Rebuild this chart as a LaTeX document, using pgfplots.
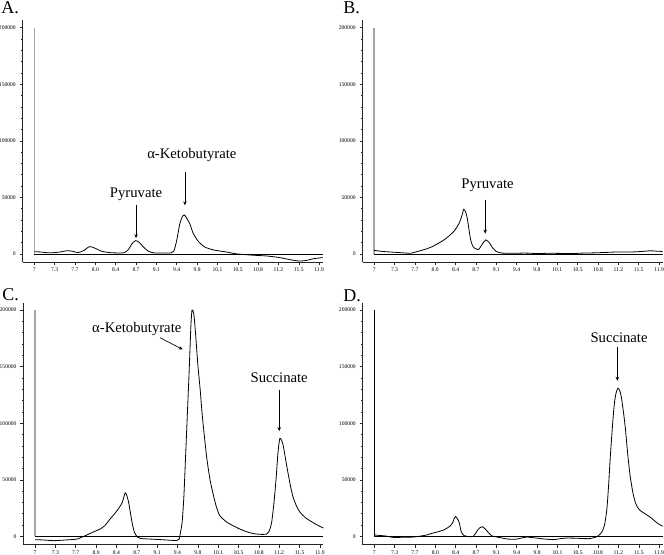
\documentclass[border=0pt]{standalone}
\usepackage{fontspec}
\setmainfont{Liberation Serif}
\usepackage{pgfplots}
\pgfplotsset{compat=1.18}
\usetikzlibrary{arrows.meta}

\pgfplotsset{
  chrom/.style={
    scale only axis, width=225pt, height=181.6pt,
    xmin=6.8, xmax=11.96, ymin=-7500, ymax=206500,
    axis x line*=bottom, axis y line*=left,
    axis line style={-, black!85, line width=0.6pt},
    xtick={7,7.35,7.7,8.05,8.4,8.75,9.1,9.45,9.8,10.15,10.5,10.85,11.2,11.55,11.9},
    xticklabels={7,7.3,7.7,8.0,8.4,8.7,9.1,9.4,9.8,10.1,10.5,10.8,11.2,11.5,11.9},
    ytick={0,50000,100000,150000,200000},
    yticklabels={0,50000,100000,150000,200000},
    minor y tick num=4,
    scaled y ticks=false,
    tick align=outside,
    major tick length=2.25pt, minor tick length=1.2pt,
    tick style={black!85, line width=0.4pt},
    tick label style={font=\fontsize{4.2}{5}\selectfont},
    xticklabel style={yshift=1.6pt},
    yticklabel style={xshift=0.6pt},
    /pgf/number format/assume math mode=true,
    clip=false,
  },
  curve/.style={black, line width=0.6pt, smooth, tension=0.4},
}
\tikzset{
  ann/.style={font=\fontsize{11}{13}\selectfont, inner sep=0pt},
  arr/.style={-{Stealth[length=3pt,width=2.6pt]}, black, line width=0.5pt},
}

\pgfplotstableread{
x y
7.00 2000
7.10 1800
7.20 1200
7.30 1000
7.45 1800
7.55 2800
7.65 2500
7.75 1200
7.85 3000
7.95 6500
8.05 5000
8.15 2500
8.30 1200
8.45 900
8.55 1200
8.62 4000
8.68 9000
8.74 11800
8.80 10500
8.88 6000
8.96 2500
9.05 1000
9.20 800
9.35 900
9.40 2500
9.45 12000
9.50 26000
9.55 33500
9.58 34500
9.62 31800
9.68 26000
9.73 18600
9.82 11200
9.93 6200
10.05 4000
10.14 3000
10.30 1800
10.45 300
10.60 -500
10.80 -1200
11.00 -1800
11.20 -3000
11.35 -4500
11.50 -6000
11.60 -6200
11.70 -5500
11.80 -4200
11.96 -3200
}\dataA

\pgfplotstableread{
x y
7.00 3200
7.15 2200
7.35 1500
7.50 1000
7.62 600
7.72 1800
7.80 3000
7.90 4500
8.00 6500
8.10 9300
8.20 12400
8.30 16500
8.38 20500
8.46 27000
8.51 34000
8.54 39500
8.57 37500
8.60 32000
8.63 22000
8.66 12400
8.70 6500
8.75 4500
8.80 4100
8.85 8000
8.92 12400
8.98 10000
9.03 5900
9.10 2200
9.20 800
9.40 600
9.60 800
9.80 400
10.00 600
10.20 500
10.40 300
10.60 800
10.80 1000
11.00 1400
11.20 1800
11.40 1700
11.60 2200
11.75 2800
11.85 2500
11.96 2200
}\dataB

\pgfplotstableread{
x y
7.00 -2900
7.15 -3200
7.32 -3800
7.50 -3300
7.72 -2400
7.80 -800
7.89 1200
8.00 3800
8.12 6500
8.20 9500
8.29 15300
8.36 19500
8.43 24100
8.50 30000
8.55 38500
8.58 36000
8.61 30000
8.64 21000
8.67 12000
8.71 3500
8.76 -500
8.81 -1800
8.90 -2200
9.03 -2500
9.20 -3000
9.35 -3500
9.44 -3600
9.48 -2400
9.50 3000
9.53 12400
9.56 35000
9.59 71000
9.62 108000
9.65 144600
9.68 185000
9.70 200000
9.73 197000
9.76 180000
9.80 152000
9.84 130000
9.88 105000
9.95 71000
10.01 50000
10.07 35900
10.12 26000
10.18 18200
10.30 12500
10.41 9400
10.52 6500
10.64 4100
10.75 2500
10.87 1800
10.98 2000
11.03 5000
11.07 12400
11.11 30000
11.15 53500
11.18 75000
11.21 86400
11.24 85000
11.27 80000
11.31 68000
11.36 53500
11.40 43000
11.44 34400
11.50 26500
11.56 21200
11.65 16500
11.73 13800
11.82 11000
11.90 8800
11.96 7400
}\dataC

\pgfplotstableread{
x y
7.00 1200
7.10 800
7.20 300
7.33 -900
7.50 -800
7.67 -600
7.80 300
7.90 1200
8.00 2800
8.10 4100
8.20 5800
8.27 7900
8.32 10000
8.35 12400
8.38 16500
8.40 17600
8.43 15500
8.46 12400
8.48 7500
8.50 3500
8.54 800
8.59 0
8.66 -300
8.70 0
8.74 2500
8.77 5000
8.82 7800
8.86 8500
8.90 7000
8.96 3500
9.02 500
9.10 -500
9.20 -1500
9.30 -2400
9.45 -2400
9.55 -1200
9.62 -600
9.74 -1200
9.90 -2200
10.08 -2900
10.20 -2000
10.31 -1500
10.45 -1600
10.54 -1800
10.70 -2000
10.80 -800
10.84 0
10.91 3500
10.96 10000
11.00 24100
11.03 45000
11.06 71000
11.10 100000
11.13 118000
11.16 127000
11.19 131000
11.22 129000
11.25 123000
11.29 108000
11.32 94700
11.36 72000
11.40 53500
11.45 38000
11.49 30000
11.53 25500
11.58 22600
11.67 19500
11.75 16800
11.85 12500
11.92 10000
11.96 9000
}\dataD

\begin{document}
\begin{tikzpicture}
\useasboundingbox (0,0) rectangle (498pt,416.25pt);

% Panel A
\begin{axis}[chrom, at={(17pt,219.4pt)}, anchor=south west]
\addplot[gray!70, line width=1pt] coordinates {(7,0) (7,200000)};
\addplot[black, line width=0.6pt] coordinates {(7,0) (11.96,0)};
\addplot[curve] table[x=x,y=y] {\dataA};
\node[ann] at (axis cs:8.75,52800) {Pyruvate};
\draw[arr] (axis cs:8.75,43300) -- (axis cs:8.75,14000);
\node[ann] at (axis cs:9.71,87500) {α-Ketobutyrate};
\draw[arr] (axis cs:9.59,72500) -- (axis cs:9.59,43000);
\end{axis}

% Panel B
\begin{axis}[chrom, at={(271.9pt,219.4pt)}, anchor=south west]
\addplot[gray!70, line width=1pt] coordinates {(7,0) (7,200000)};
\addplot[black, line width=0.6pt] coordinates {(7,0) (11.96,0)};
\addplot[curve] table[x=x,y=y] {\dataB};
\node[ann] at (axis cs:8.95,61000) {Pyruvate};
\draw[arr] (axis cs:8.91,47700) -- (axis cs:8.91,18000);
\end{axis}

% Panel C
\begin{axis}[chrom, at={(17.55pt,7.6pt)}, anchor=south west]
\addplot[gray!70, line width=1pt] coordinates {(7,0) (7,200000)};
\addplot[black, line width=0.6pt] coordinates {(7,0) (11.96,0)};
\addplot[curve] table[x=x,y=y] {\dataC};
\node[ann] at (axis cs:8.75,182900) {α-Ketobutyrate};
\draw[arr] (axis cs:9.15,175600) -- (axis cs:9.54,165200);
\node[ann] at (axis cs:11.20,140200) {Succinate};
\draw[arr] (axis cs:11.20,129800) -- (axis cs:11.20,93000);
\end{axis}

% Panel D
\begin{axis}[chrom, at={(272pt,7.6pt)}, anchor=south west]
\addplot[black, line width=0.6pt] coordinates {(7,0) (7,200000)};
\addplot[black, line width=0.6pt] coordinates {(7,0) (11.96,0)};
\addplot[curve] table[x=x,y=y] {\dataD};
\node[ann] at (axis cs:11.21,175600) {Succinate};
\draw[arr] (axis cs:11.18,167000) -- (axis cs:11.18,137500);
\end{axis}

\node[anchor=base west, inner sep=0pt, font=\fontsize{13.5}{15}\selectfont] at (0.75pt,405.75pt) {A.};
\node[anchor=base west, inner sep=0pt, font=\fontsize{13.5}{15}\selectfont] at (257.25pt,405.75pt) {B.};
\node[anchor=base west, inner sep=0pt, font=\fontsize{13.5}{15}\selectfont] at (1.5pt,190.5pt) {C.};
\node[anchor=base west, inner sep=0pt, font=\fontsize{13.5}{15}\selectfont] at (257.25pt,189.75pt) {D.};
\end{tikzpicture}
\end{document}
